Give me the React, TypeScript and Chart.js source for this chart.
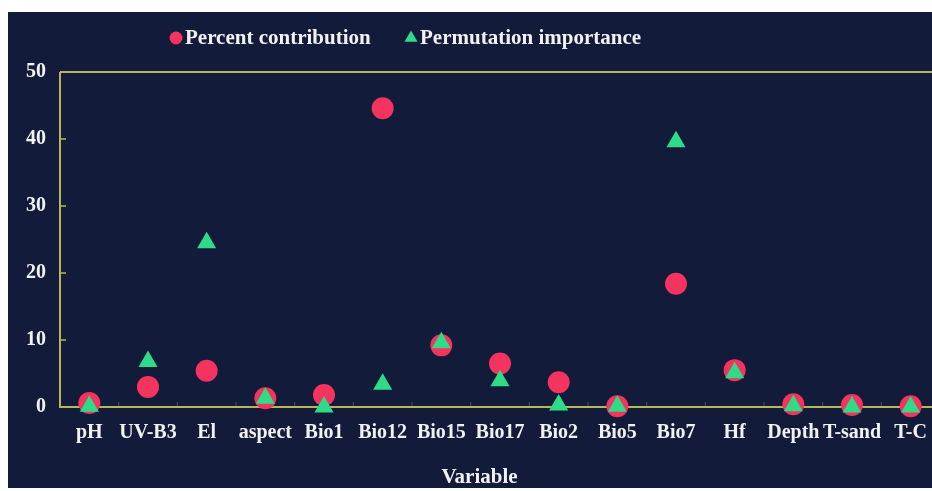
import { useEffect, useRef } from "react";
import { Chart, registerables } from "chart.js";

Chart.register(...registerables);

// Variables on the x axis
const variables = [
  "pH", "UV-B3", "El", "aspect", "Bio1", "Bio12", "Bio15", "Bio17",
  "Bio2", "Bio5", "Bio7", "Hf", "Depth", "T-sand", "T-C",
];

// Percent contribution of each variable
const percentContribution = [
  0.6, 3.0, 5.4, 1.3, 1.8, 44.6, 9.2, 6.5, 3.7, 0.1, 18.4, 5.5, 0.4, 0.3, 0.1,
];

// Permutation importance of each variable
const permutationImportance = [
  0.1, 6.8, 24.5, 1.3, 0.0, 3.4, 9.6, 3.9, 0.3, 0.1, 39.6, 5.1, 0.2, 0.0, 0.0,
];

const yTicks = [0, 10, 20, 30, 40, 50];

const FONT = "'Times New Roman', 'Liberation Serif', serif";
const BG = "#121c3a";
const TEXT = "#f2f2f2";
const AXIS = "#b7b65a";
const RED = "#f4335f";
const GREEN = "#2edc88";

// Legend drawn by hand so the marker row sits where it should
const markerLegend = {
  id: "markerLegend",
  afterDraw(chart: any) {
    const ctx = chart.ctx as CanvasRenderingContext2D;
    const y = 26;
    const entries = [
      { x: 168, ds: 0 },
      { x: 403, ds: 1 },
    ];
    ctx.save();
    ctx.font = `bold 21px ${FONT}`;
    ctx.textBaseline = "middle";
    ctx.textAlign = "left";
    for (const e of entries) {
      const ds = chart.data.datasets[e.ds];
      ctx.fillStyle = ds.pointBackgroundColor;
      ctx.beginPath();
      if (ds.pointStyle === "triangle") {
        const r = 7.5;
        ctx.moveTo(e.x, y - r);
        ctx.lineTo(e.x + r * 0.866, y + r / 2);
        ctx.lineTo(e.x - r * 0.866, y + r / 2);
        ctx.closePath();
      } else {
        ctx.arc(e.x, y, 6.5, 0, Math.PI * 2);
      }
      ctx.fill();
      ctx.fillStyle = TEXT;
      ctx.fillText(ds.label, e.x + 9, y + 1);
    }
    ctx.restore();
  },
};

// Axis frame with short inner tick marks
const axisFrame = {
  id: "axisFrame",
  beforeDatasetsDraw(chart: any) {
    const ctx = chart.ctx as CanvasRenderingContext2D;
    const { left, right, top, bottom } = chart.chartArea;
    const ys = chart.scales.y;
    const xs = chart.scales.x;
    ctx.save();
    ctx.strokeStyle = AXIS;
    ctx.lineWidth = 2;
    ctx.beginPath();
    ctx.moveTo(left, top);
    ctx.lineTo(right, top);
    ctx.moveTo(left, top);
    ctx.lineTo(left, bottom);
    ctx.lineTo(right, bottom);
    ctx.stroke();
    ctx.lineWidth = 1.5;
    ctx.beginPath();
    for (const v of yTicks) {
      if (v === 0 || v === 50) continue;
      const py = ys.getPixelForValue(v);
      ctx.moveTo(left, py);
      ctx.lineTo(left + 6, py);
    }
    ctx.stroke();
    ctx.globalAlpha = 0.35;
    ctx.lineWidth = 1;
    ctx.beginPath();
    for (let i = 1; i < variables.length; i++) {
      const px = (xs.getPixelForValue(i - 1) + xs.getPixelForValue(i)) / 2;
      ctx.moveTo(px, bottom);
      ctx.lineTo(px, bottom - 5);
    }
    ctx.stroke();
    ctx.restore();
  },
};

export default function App() {
  const canvasRef = useRef<HTMLCanvasElement>(null);

  useEffect(() => {
    if (!canvasRef.current) return;
    const chart = new Chart(canvasRef.current, {
      type: "line",
      data: {
        labels: variables,
        datasets: [
          {
            label: "Percent contribution",
            data: percentContribution,
            order: 1,
            showLine: false,
            pointStyle: "circle",
            pointRadius: 11,
            pointBackgroundColor: RED,
            pointBorderColor: RED,
            pointBorderWidth: 0,
          },
          {
            label: "Permutation importance",
            data: permutationImportance,
            order: 0,
            showLine: false,
            pointStyle: "triangle",
            pointRadius: 11,
            pointBackgroundColor: GREEN,
            pointBorderColor: GREEN,
            pointBorderWidth: 0,
          },
        ],
      },
      options: {
        responsive: false,
        animation: false,
        clip: false,
        layout: { padding: { top: 60, right: 0, left: 0, bottom: 0 } },
        plugins: {
          legend: { display: false },
          tooltip: { enabled: false },
          title: {
            display: true,
            position: "bottom",
            text: "Variable",
            color: TEXT,
            font: { family: FONT, size: 21, weight: "bold", lineHeight: 1 },
            padding: { top: 10, bottom: 0 },
          },
        },
        scales: {
          x: {
            type: "category",
            offset: true,
            grid: { display: false, drawTicks: false },
            border: { display: false },
            ticks: {
              color: TEXT,
              font: { family: FONT, size: 20, weight: "bold" },
              padding: 14,
              maxRotation: 0,
              autoSkip: false,
            },
            afterFit(scale: any) {
              scale.height = 50;
            },
          },
          y: {
            min: 0,
            max: 50,
            grid: { display: false, drawTicks: false },
            border: { display: false },
            ticks: {
              stepSize: 10,
              color: TEXT,
              font: { family: FONT, size: 20, weight: "bold" },
              padding: 14,
            },
            afterFit(scale: any) {
              scale.width = 52;
            },
          },
        },
      },
      plugins: [axisFrame, markerLegend],
    });
    return () => chart.destroy();
  }, []);

  return (
    <div
      style={{
        position: "fixed",
        left: 8,
        top: 12,
        width: 924,
        height: 476,
        overflow: "hidden",
        background: BG,
      }}
    >
      <canvas ref={canvasRef} width={943} height={476} style={{ display: "block" }} />
    </div>
  );
}
